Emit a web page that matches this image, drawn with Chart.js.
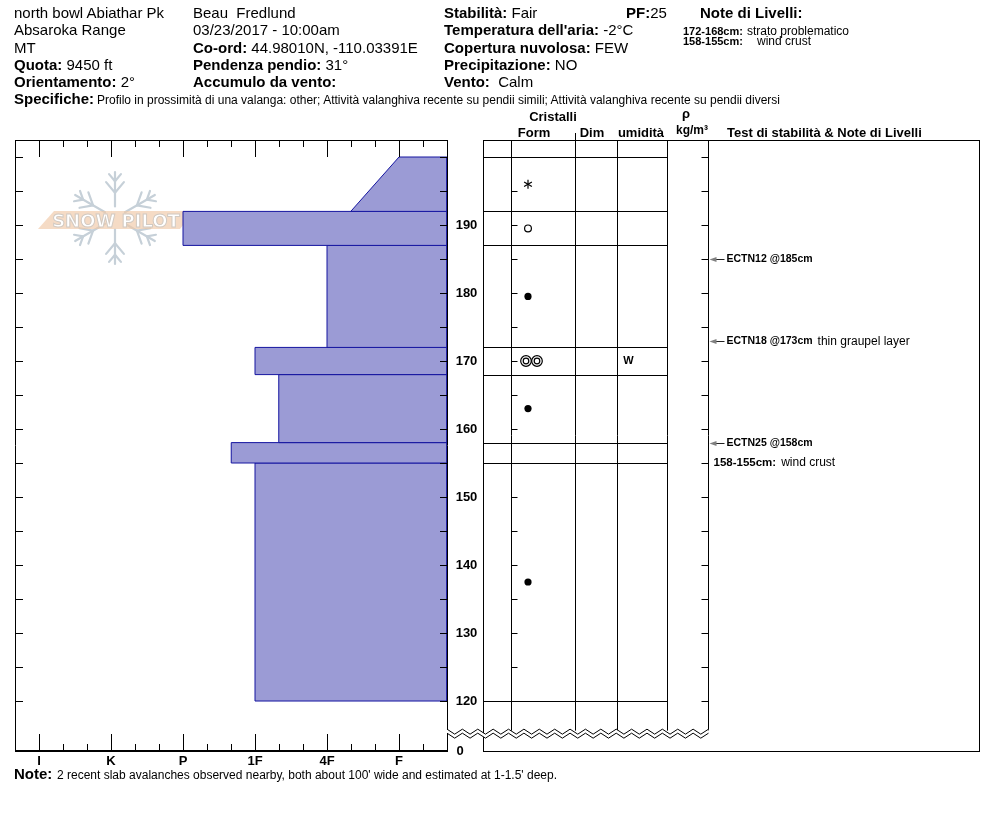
<!DOCTYPE html>
<html>
<head>
<meta charset="utf-8">
<title>Profilo neve - north bowl Abiathar Pk</title>
<script src="https://cdn.jsdelivr.net/npm/chart.js@4.4.1/dist/chart.umd.min.js"></script>
<style>
  body { margin: 0; background: #fff; }
  #pagina { position: relative; width: 994px; height: 840px; font-family: "Liberation Sans", Arial, sans-serif; color: #000; }
  #profilo { position: absolute; left: 0; top: 0; }
  .t { position: absolute; white-space: pre; line-height: 1; }
</style>
</head>
<body>
<div id="pagina">
  <canvas id="profilo" width="994" height="840"></canvas>
</div>
<script>
// Dati del profilo: altezze in cm dal suolo, durezza 1=I ... 6=F
const hardLabels  = ['I', 'K', 'P', '1F', '4F', 'F'];
const layerTop    = [200, 192, 187, 172, 168, 158, 155];
const layerBottom = [192, 187, 172, 168, 158, 155, 120];
const hardTop     = [6, 3, 5, 4, 4.33, 3.67, 4];
const hardBottom  = [5.33, 3, 5, 4, 4.33, 3.67, 4];
const grainForm   = ['PP', 'MF', 'RG', 'MFcl', 'RG', '', 'RG'];
const wetness     = ['', '', '', 'W', '', '', ''];
const heightLabels = [120, 130, 140, 150, 160, 170, 180, 190];

// Test di stabilità e note
const testDepth = [185, 173, 158];
const testName  = ['ECTN12 @185cm', 'ECTN18 @173cm', 'ECTN25 @158cm'];
const testNote  = ['', 'thin graupel layer', ''];
const noteDepth = [155];
const noteRange = ['158-155cm:'];
const noteText  = ['wind crust'];

const pagina = document.getElementById('pagina');

// Scrive un testo html con la linea di base a "base"
function scrivi(x, base, size, html, align) {
  const d = document.createElement('div');
  d.className = 't';
  d.style.fontSize = size + 'px';
  d.style.top = (base - 0.8465 * size) + 'px';
  if (align === 'center') {
    d.style.left = (x - 150) + 'px';
    d.style.width = '300px';
    d.style.textAlign = 'center';
  } else {
    d.style.left = x + 'px';
  }
  d.innerHTML = html;
  pagina.appendChild(d);
}

// Intestazione
const righe = [17.3, 34.7, 52.2, 69.7, 87, 104];
scrivi(14, righe[0], 15, 'north bowl Abiathar Pk');
scrivi(14, righe[1], 15, 'Absaroka Range');
scrivi(14, righe[2], 15, 'MT');
scrivi(14, righe[3], 15, '<b>Quota:</b> 9450 ft');
scrivi(14, righe[4], 15, '<b>Orientamento:</b> 2°');
scrivi(193, righe[0], 15, 'Beau  Fredlund');
scrivi(193, righe[1], 15, '03/23/2017 - 10:00am');
scrivi(193, righe[2], 15, '<b>Co-ord:</b> 44.98010N, -110.03391E');
scrivi(193, righe[3], 15, '<b>Pendenza pendio:</b> 31°');
scrivi(193, righe[4], 15, '<b>Accumulo da vento:</b>');
scrivi(444, righe[0], 15, '<b>Stabilità:</b> Fair');
scrivi(444, righe[1], 15, '<b>Temperatura dell\'aria:</b> -2°C');
scrivi(444, righe[2], 15, '<b>Copertura nuvolosa:</b> FEW');
scrivi(444, righe[3], 15, '<b>Precipitazione:</b> NO');
scrivi(444, righe[4], 15, '<b>Vento:</b>  Calm');
scrivi(626, righe[0], 15, '<b>PF:</b>25');
scrivi(700, righe[0], 15, '<b>Note di Livelli:</b>');
scrivi(683, 35, 11, '<b>172-168cm:</b>');
scrivi(747, 35, 12, 'strato problematico');
scrivi(683, 45, 11, '<b>158-155cm:</b>');
scrivi(757, 45, 12, 'wind crust');
scrivi(14, righe[5], 15, '<b>Specifiche:</b>');
scrivi(97, righe[5], 12, 'Profilo in prossimità di una valanga: other; Attività valanghiva recente su pendii simili; Attività valanghiva recente su pendii diversi');

// Titoli delle colonne
scrivi(553, 121, 13, '<b>Cristalli</b>', 'center');
scrivi(534, 137, 13, '<b>Form</b>', 'center');
scrivi(592, 137, 13, '<b>Dim</b>', 'center');
scrivi(641, 137, 13, '<b>umidità</b>', 'center');
scrivi(686, 118, 13, '<b>ρ</b>', 'center');
scrivi(692, 134, 12, '<b>kg/m³</b>', 'center');
scrivi(727, 137, 13, '<b>Test di stabilità &amp; Note di Livelli</b>');

// Nota finale
scrivi(14, 779, 15, '<b>Note:</b>');
scrivi(57, 779, 12, '2 recent slab avalanches observed nearby, both about 100\' wide and estimated at 1-1.5\' deep.');

function line(ctx, x1, y1, x2, y2) {
  ctx.beginPath();
  ctx.moveTo(x1, y1);
  ctx.lineTo(x2, y2);
  ctx.stroke();
}

// Logo di sfondo
function drawWatermark(ctx) {
  const cx = 115, cy = 218, r = 46;
  ctx.save();
  ctx.strokeStyle = '#c6d0d8';
  ctx.lineWidth = 2.2;
  ctx.lineCap = 'round';
  for (let k = 0; k < 6; k++) {
    const ang = Math.PI / 2 + k * Math.PI / 3;
    const dx = Math.cos(ang), dy = Math.sin(ang);
    line(ctx, cx + dx * r * 0.25, cy + dy * r * 0.25, cx + dx * r, cy + dy * r);
    [0.55, 0.8].forEach((f, j) => {
      const bx = cx + dx * r * f, by = cy + dy * r * f;
      const bl = r * (0.3 - j * 0.1);
      [-1, 1].forEach(s => {
        const a2 = ang + s * 0.7;
        line(ctx, bx, by, bx + Math.cos(a2) * bl, by + Math.sin(a2) * bl);
      });
    });
  }
  ctx.fillStyle = 'rgba(240, 200, 166, 0.65)';
  ctx.beginPath();
  ctx.moveTo(54, 211);
  ctx.lineTo(194, 211);
  ctx.lineTo(180, 229);
  ctx.lineTo(38, 229);
  ctx.closePath();
  ctx.fill();
  ctx.font = 'bold 18px "DejaVu Sans"';
  ctx.textAlign = 'center';
  ctx.textBaseline = 'alphabetic';
  ctx.fillStyle = '#ffffff';
  ctx.strokeStyle = '#d2cac2';
  ctx.lineWidth = 1;
  ctx.fillText('SNOW PILOT', 116, 227);
  ctx.strokeText('SNOW PILOT', 116, 227);
  ctx.restore();
}

function drawGrain(ctx, code, x, y) {
  ctx.lineWidth = 1.2;
  if (code === 'PP') {
    for (let k = 0; k < 3; k++) {
      const a = Math.PI / 2 + k * Math.PI / 3;
      line(ctx, x - Math.cos(a) * 4.5, y - Math.sin(a) * 4.5, x + Math.cos(a) * 4.5, y + Math.sin(a) * 4.5);
    }
  } else if (code === 'MF') {
    ctx.beginPath(); ctx.arc(x, y, 3.4, 0, Math.PI * 2); ctx.stroke();
  } else if (code === 'RG') {
    ctx.beginPath(); ctx.arc(x, y, 3.6, 0, Math.PI * 2); ctx.fill();
  } else if (code === 'MFcl') {
    [x - 2, x + 9].forEach(c => {
      ctx.beginPath(); ctx.arc(c, y, 5.3, 0, Math.PI * 2); ctx.stroke();
      ctx.beginPath(); ctx.arc(c, y, 2.8, 0, Math.PI * 2); ctx.stroke();
    });
  }
}

const profiloPlugin = {
  id: 'profiloPlugin',
  beforeDatasetsDraw(chart) {
    drawWatermark(chart.ctx);
  },
  afterDatasetsDraw(chart) {
    const ctx = chart.ctx;
    const a = chart.chartArea;
    const xs = chart.scales.x, ys = chart.scales.y;
    const L = a.left, R = a.right, T = a.top, B = a.bottom;
    const px = v => Math.round(xs.getPixelForValue(v)) + 0.5;
    const py = v => Math.round(ys.getPixelForValue(v)) + 0.5;
    // colonne della tabella a destra del grafico
    const cols = [R + 36, R + 64, R + 128, R + 170, R + 220, R + 261].map(c => c + 0.5);
    const panelR = R + 532.5;
    const zig = ys.getPixelForValue(115.2);
    const zigTop = zig - 3;

    ctx.save();
    ctx.strokeStyle = '#000';
    ctx.fillStyle = '#000';
    ctx.lineWidth = 1;

    // cornice del grafico durezza
    line(ctx, L, T + 0.5, R + 1, T + 0.5);
    line(ctx, L + 0.5, T, L + 0.5, B);
    line(ctx, R + 0.5, T, R + 0.5, B);
    ctx.lineWidth = 2;
    line(ctx, L, B, R + 1, B);
    ctx.lineWidth = 1;

    // tacche della durezza (terzi di classe)
    for (let k = 3; k < 20; k++) {
      const xx = px(k / 3);
      const len = k % 3 === 0 ? 17 : 7;
      line(ctx, xx, T, xx, T + len);
      line(ctx, xx, B, xx, B - len);
    }
    ctx.font = 'bold 13px "Liberation Sans", Arial';
    ctx.textAlign = 'center';
    ctx.textBaseline = 'alphabetic';
    hardLabels.forEach((lab, i) => ctx.fillText(lab, xs.getPixelForValue(i + 1), B + 14));

    // tabella cristalli
    const bounds = [...new Set([...layerTop, ...layerBottom])];
    bounds.forEach(h => line(ctx, cols[0], py(h), cols[4], py(h)));
    line(ctx, cols[0], T + 0.5, panelR, T + 0.5);
    line(ctx, cols[0], B + 0.5, panelR, B + 0.5);
    line(ctx, cols[0], T, cols[0], B + 1);
    cols.slice(1).forEach(c => line(ctx, c, T, c, zigTop));
    line(ctx, cols[2], T - 7, cols[2], T);
    line(ctx, panelR, T, panelR, B + 1);

    // tacche dell'altezza ogni 5 cm
    for (let h = 120; h <= 200; h += 5) {
      const yy = py(h);
      line(ctx, L, yy, L + 8, yy);
      line(ctx, R - 7, yy, R, yy);
      line(ctx, cols[1], yy, cols[1] + 6, yy);
      line(ctx, cols[5] - 7, yy, cols[5], yy);
    }
    ctx.textBaseline = 'middle';
    heightLabels.forEach(h => ctx.fillText(String(h), R + 19.5, ys.getPixelForValue(h)));
    ctx.fillText('0', R + 13, B);

    // interruzione dell'asse (zig zag)
    const nSeg = 34;
    const step = (cols[5] - R) / nSeg;
    const up = [], dn = [];
    for (let i = 0; i <= nSeg; i++) {
      const xx = R + i * step;
      const off = i % 2 ? 2.5 : -2.5;
      up.push([xx, zig - 2 + off]);
      dn.push([xx, zig + 2 + off]);
    }
    ctx.fillStyle = '#fff';
    ctx.beginPath();
    up.forEach((p, i) => (i ? ctx.lineTo(p[0], p[1]) : ctx.moveTo(p[0], p[1])));
    dn.slice().reverse().forEach(p => ctx.lineTo(p[0], p[1]));
    ctx.closePath();
    ctx.fill();
    [up, dn].forEach(pts => {
      ctx.beginPath();
      pts.forEach((p, i) => (i ? ctx.lineTo(p[0], p[1]) : ctx.moveTo(p[0], p[1])));
      ctx.stroke();
    });
    ctx.fillStyle = '#000';

    // simboli dei cristalli e umidità
    layerTop.forEach((t, i) => {
      const cy = ys.getPixelForValue((t + layerBottom[i]) / 2);
      drawGrain(ctx, grainForm[i], cols[1] + 16.5, cy);
      if (wetness[i]) {
        ctx.font = 'bold 11px "Liberation Sans", Arial';
        ctx.textAlign = 'center';
        ctx.fillText(wetness[i], cols[3] + 11, cy);
      }
    });

    // test di stabilità
    ctx.textAlign = 'left';
    ctx.lineWidth = 1;
    testDepth.forEach((d, i) => {
      const yy = Math.round(ys.getPixelForValue(d)) + 0.5;
      const x0 = cols[5];
      ctx.strokeStyle = '#222';
      line(ctx, x0 + 5, yy, x0 + 16, yy);
      ctx.fillStyle = '#808080';
      ctx.beginPath();
      ctx.moveTo(x0 + 1, yy);
      ctx.lineTo(x0 + 8, yy - 2.5);
      ctx.lineTo(x0 + 8, yy + 2.5);
      ctx.closePath();
      ctx.fill();
      ctx.fillStyle = '#000';
      ctx.font = 'bold 10.5px "Liberation Sans", Arial';
      ctx.fillText(testName[i], x0 + 18, yy);
      if (testNote[i]) {
        const w = ctx.measureText(testName[i]).width;
        ctx.font = '12px "Liberation Sans", Arial';
        ctx.fillText(testNote[i], x0 + 18 + w + 5, yy);
      }
    });
    noteDepth.forEach((d, i) => {
      const yy = ys.getPixelForValue(d);
      ctx.font = 'bold 11.5px "Liberation Sans", Arial';
      ctx.fillText(noteRange[i], cols[5] + 5, yy);
      const w = ctx.measureText(noteRange[i]).width;
      ctx.font = '12px "Liberation Sans", Arial';
      ctx.fillText(noteText[i], cols[5] + 5 + w + 5, yy);
    });
    ctx.restore();
  }
};

// Un poligono per ogni strato, dalla durezza fino al bordo destro (F)
const xMax = 6 + 2 / 3;
const datasets = layerTop.map((t, i) => ({
  data: [
    { x: hardTop[i], y: t },
    { x: xMax, y: t },
    { x: xMax, y: layerBottom[i] },
    { x: hardBottom[i], y: layerBottom[i] },
    { x: hardTop[i], y: t }
  ],
  showLine: true,
  fill: 'shape',
  backgroundColor: '#9b9bd5',
  borderColor: '#1515a0',
  borderWidth: 1,
  pointRadius: 0,
  tension: 0
}));

new Chart(document.getElementById('profilo'), {
  type: 'scatter',
  data: { datasets: datasets },
  options: {
    responsive: false,
    animation: false,
    events: [],
    layout: { padding: { left: 15, top: 140, right: 547, bottom: 89 } },
    plugins: { legend: { display: false }, tooltip: { enabled: false } },
    scales: {
      x: { type: 'linear', display: false, min: 2 / 3, max: xMax },
      y: { type: 'linear', display: false, min: 112.65, max: 202.5 }
    }
  },
  plugins: [profiloPlugin]
});
</script>
</body>
</html>
